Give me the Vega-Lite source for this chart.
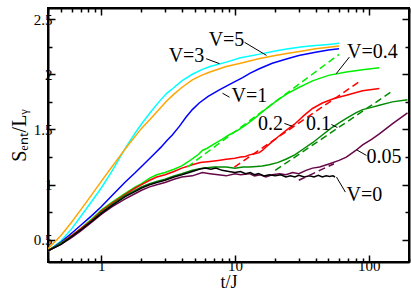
{
  "$schema": "https://vega.github.io/schema/vega-lite/v6.json",
  "width": 361,
  "height": 254,
  "autosize": {"type": "none"},
  "padding": {"left": 48, "top": 8, "right": 2, "bottom": 31},
  "config": {
    "view": {"stroke": "black", "strokeWidth": 2},
    "font": "Liberation Serif",
    "axis": {
      "grid": false,
      "domainColor": "black",
      "domainWidth": 2,
      "tickColor": "black",
      "tickWidth": 1.5,
      "labelFont": "Liberation Serif",
      "labelFontSize": 15,
      "labelColor": "black",
      "labelOverlap": false,
      "labelFlush": false,
      "labelBound": false,
      "titleFont": "Liberation Serif",
      "titleFontSize": 18,
      "titleFontWeight": "normal",
      "titleColor": "black",
      "zindex": 1
    }
  },
  "resolve": {"axis": {"x": "independent", "y": "independent"}},
  "datasets": {
    "curves": [
      {"series":"V=5","t":0.4,"S":0.40},{"series":"V=5","t":0.5,"S":0.49},{"series":"V=5","t":0.6,"S":0.60},{"series":"V=5","t":0.7,"S":0.71},{"series":"V=5","t":0.85,"S":0.85},{"series":"V=5","t":1,"S":0.97},{"series":"V=5","t":1.2,"S":1.12},{"series":"V=5","t":1.37,"S":1.24},{"series":"V=5","t":1.57,"S":1.36},{"series":"V=5","t":1.8,"S":1.47},{"series":"V=5","t":2,"S":1.55},{"series":"V=5","t":2.35,"S":1.66},{"series":"V=5","t":2.7,"S":1.75},{"series":"V=5","t":3.1,"S":1.83},{"series":"V=5","t":3.5,"S":1.88},{"series":"V=5","t":4,"S":1.94},{"series":"V=5","t":4.8,"S":2.00},{"series":"V=5","t":5.6,"S":2.04},{"series":"V=5","t":6.5,"S":2.07},{"series":"V=5","t":8.6,"S":2.11},{"series":"V=5","t":11,"S":2.15},{"series":"V=5","t":15,"S":2.18},{"series":"V=5","t":20,"S":2.21},{"series":"V=5","t":25,"S":2.23},{"series":"V=5","t":32,"S":2.25},{"series":"V=5","t":40,"S":2.26},{"series":"V=5","t":50,"S":2.27},{"series":"V=5","t":60,"S":2.28},
      {"series":"V=3","t":0.4,"S":0.42},{"series":"V=3","t":0.5,"S":0.54},{"series":"V=3","t":0.6,"S":0.66},{"series":"V=3","t":0.7,"S":0.77},{"series":"V=3","t":0.85,"S":0.91},{"series":"V=3","t":1,"S":1.03},{"series":"V=3","t":1.2,"S":1.16},{"series":"V=3","t":1.4,"S":1.27},{"series":"V=3","t":1.57,"S":1.35},{"series":"V=3","t":1.8,"S":1.44},{"series":"V=3","t":2,"S":1.51},{"series":"V=3","t":2.35,"S":1.60},{"series":"V=3","t":2.7,"S":1.68},{"series":"V=3","t":3.1,"S":1.76},{"series":"V=3","t":3.5,"S":1.82},{"series":"V=3","t":4,"S":1.88},{"series":"V=3","t":4.8,"S":1.95},{"series":"V=3","t":5.6,"S":1.99},{"series":"V=3","t":6.5,"S":2.02},{"series":"V=3","t":8.6,"S":2.07},{"series":"V=3","t":11,"S":2.10},{"series":"V=3","t":15,"S":2.14},{"series":"V=3","t":20,"S":2.17},{"series":"V=3","t":25,"S":2.19},{"series":"V=3","t":32,"S":2.21},{"series":"V=3","t":40,"S":2.23},{"series":"V=3","t":50,"S":2.245},{"series":"V=3","t":60,"S":2.255},
      {"series":"V=1","t":0.4,"S":0.40},{"series":"V=1","t":0.5,"S":0.48},{"series":"V=1","t":0.6,"S":0.56},{"series":"V=1","t":0.7,"S":0.63},{"series":"V=1","t":0.85,"S":0.72},{"series":"V=1","t":1,"S":0.80},{"series":"V=1","t":1.2,"S":0.90},{"series":"V=1","t":1.5,"S":1.02},{"series":"V=1","t":1.8,"S":1.11},{"series":"V=1","t":2.1,"S":1.19},{"series":"V=1","t":2.5,"S":1.28},{"series":"V=1","t":2.8,"S":1.34},{"series":"V=1","t":3.1,"S":1.40},{"series":"V=1","t":3.4,"S":1.45},{"series":"V=1","t":3.85,"S":1.53},{"series":"V=1","t":4.3,"S":1.61},{"series":"V=1","t":4.8,"S":1.68},{"series":"V=1","t":5.4,"S":1.74},{"series":"V=1","t":6.3,"S":1.80},{"series":"V=1","t":7.7,"S":1.86},{"series":"V=1","t":9.5,"S":1.92},{"series":"V=1","t":11.4,"S":1.97},{"series":"V=1","t":13,"S":2.01},{"series":"V=1","t":15.2,"S":2.05},{"series":"V=1","t":19,"S":2.10},{"series":"V=1","t":24.6,"S":2.14},{"series":"V=1","t":30,"S":2.17},{"series":"V=1","t":40,"S":2.20},{"series":"V=1","t":50,"S":2.22},{"series":"V=1","t":60,"S":2.23},
      {"series":"V=0.4","t":0.4,"S":0.40},{"series":"V=0.4","t":0.5,"S":0.47},{"series":"V=0.4","t":0.6,"S":0.54},{"series":"V=0.4","t":0.7,"S":0.60},{"series":"V=0.4","t":0.85,"S":0.69},{"series":"V=0.4","t":1,"S":0.77},{"series":"V=0.4","t":1.2,"S":0.84},{"series":"V=0.4","t":1.5,"S":0.92},{"series":"V=0.4","t":1.8,"S":0.98},{"series":"V=0.4","t":2,"S":1.01},{"series":"V=0.4","t":2.3,"S":1.06},{"series":"V=0.4","t":2.6,"S":1.09},{"series":"V=0.4","t":3,"S":1.11},{"series":"V=0.4","t":3.5,"S":1.14},{"series":"V=0.4","t":4,"S":1.17},{"series":"V=0.4","t":4.5,"S":1.21},{"series":"V=0.4","t":5,"S":1.25},{"series":"V=0.4","t":5.4,"S":1.28},{"series":"V=0.4","t":5.7,"S":1.31},{"series":"V=0.4","t":6.2,"S":1.33},{"series":"V=0.4","t":7,"S":1.37},{"series":"V=0.4","t":8,"S":1.41},{"series":"V=0.4","t":9,"S":1.45},{"series":"V=0.4","t":10.4,"S":1.49},{"series":"V=0.4","t":12,"S":1.54},{"series":"V=0.4","t":14,"S":1.60},{"series":"V=0.4","t":16,"S":1.66},{"series":"V=0.4","t":19,"S":1.73},{"series":"V=0.4","t":21.6,"S":1.78},{"series":"V=0.4","t":25,"S":1.83},{"series":"V=0.4","t":30,"S":1.88},{"series":"V=0.4","t":38,"S":1.94},{"series":"V=0.4","t":50,"S":1.99},{"series":"V=0.4","t":68,"S":2.02},{"series":"V=0.4","t":90,"S":2.04},{"series":"V=0.4","t":120,"S":2.06},
      {"series":"V=0.2","t":0.4,"S":0.40},{"series":"V=0.2","t":0.5,"S":0.47},{"series":"V=0.2","t":0.6,"S":0.54},{"series":"V=0.2","t":0.7,"S":0.60},{"series":"V=0.2","t":0.85,"S":0.68},{"series":"V=0.2","t":1,"S":0.76},{"series":"V=0.2","t":1.2,"S":0.83},{"series":"V=0.2","t":1.5,"S":0.91},{"series":"V=0.2","t":1.8,"S":0.97},{"series":"V=0.2","t":2,"S":1.00},{"series":"V=0.2","t":2.3,"S":1.04},{"series":"V=0.2","t":2.6,"S":1.07},{"series":"V=0.2","t":3,"S":1.09},{"series":"V=0.2","t":3.5,"S":1.12},{"series":"V=0.2","t":4,"S":1.15},{"series":"V=0.2","t":4.8,"S":1.18},{"series":"V=0.2","t":5.5,"S":1.20},{"series":"V=0.2","t":6.5,"S":1.21},{"series":"V=0.2","t":7.5,"S":1.22},{"series":"V=0.2","t":8.6,"S":1.23},{"series":"V=0.2","t":10,"S":1.24},{"series":"V=0.2","t":11,"S":1.25},{"series":"V=0.2","t":12,"S":1.255},{"series":"V=0.2","t":12.8,"S":1.27},{"series":"V=0.2","t":14,"S":1.28},{"series":"V=0.2","t":15.2,"S":1.29},{"series":"V=0.2","t":16,"S":1.31},{"series":"V=0.2","t":17,"S":1.34},{"series":"V=0.2","t":19,"S":1.39},{"series":"V=0.2","t":20.8,"S":1.43},{"series":"V=0.2","t":24,"S":1.49},{"series":"V=0.2","t":28,"S":1.55},{"series":"V=0.2","t":33,"S":1.63},{"series":"V=0.2","t":38,"S":1.69},{"series":"V=0.2","t":45,"S":1.74},{"series":"V=0.2","t":55,"S":1.78},{"series":"V=0.2","t":68,"S":1.81},{"series":"V=0.2","t":90,"S":1.85},{"series":"V=0.2","t":120,"S":1.87},
      {"series":"V=0.1","t":0.4,"S":0.40},{"series":"V=0.1","t":0.5,"S":0.47},{"series":"V=0.1","t":0.6,"S":0.53},{"series":"V=0.1","t":0.7,"S":0.59},{"series":"V=0.1","t":0.85,"S":0.67},{"series":"V=0.1","t":1,"S":0.75},{"series":"V=0.1","t":1.2,"S":0.82},{"series":"V=0.1","t":1.5,"S":0.90},{"series":"V=0.1","t":1.8,"S":0.95},{"series":"V=0.1","t":2,"S":0.98},{"series":"V=0.1","t":2.3,"S":1.01},{"series":"V=0.1","t":2.6,"S":1.03},{"series":"V=0.1","t":3,"S":1.05},{"series":"V=0.1","t":3.5,"S":1.08},{"series":"V=0.1","t":4,"S":1.10},{"series":"V=0.1","t":4.8,"S":1.13},{"series":"V=0.1","t":5.7,"S":1.15},{"series":"V=0.1","t":7,"S":1.16},{"series":"V=0.1","t":8.6,"S":1.16},{"series":"V=0.1","t":10,"S":1.15},{"series":"V=0.1","t":11.5,"S":1.16},{"series":"V=0.1","t":12.8,"S":1.16},{"series":"V=0.1","t":14.5,"S":1.165},{"series":"V=0.1","t":16,"S":1.17},{"series":"V=0.1","t":18,"S":1.18},{"series":"V=0.1","t":20.8,"S":1.20},{"series":"V=0.1","t":24,"S":1.23},{"series":"V=0.1","t":28,"S":1.27},{"series":"V=0.1","t":33,"S":1.33},{"series":"V=0.1","t":38,"S":1.38},{"series":"V=0.1","t":45,"S":1.45},{"series":"V=0.1","t":52,"S":1.51},{"series":"V=0.1","t":60,"S":1.56},{"series":"V=0.1","t":68,"S":1.60},{"series":"V=0.1","t":80,"S":1.65},{"series":"V=0.1","t":90,"S":1.68},{"series":"V=0.1","t":105,"S":1.70},{"series":"V=0.1","t":120,"S":1.72},{"series":"V=0.1","t":150,"S":1.75},{"series":"V=0.1","t":195,"S":1.77},
      {"series":"V=0.05","t":0.4,"S":0.40},{"series":"V=0.05","t":0.5,"S":0.46},{"series":"V=0.05","t":0.6,"S":0.52},{"series":"V=0.05","t":0.7,"S":0.58},{"series":"V=0.05","t":0.85,"S":0.66},{"series":"V=0.05","t":1,"S":0.73},{"series":"V=0.05","t":1.2,"S":0.80},{"series":"V=0.05","t":1.5,"S":0.87},{"series":"V=0.05","t":1.8,"S":0.92},{"series":"V=0.05","t":2,"S":0.95},{"series":"V=0.05","t":2.3,"S":0.98},{"series":"V=0.05","t":2.6,"S":1.00},{"series":"V=0.05","t":3,"S":1.02},{"series":"V=0.05","t":3.5,"S":1.05},{"series":"V=0.05","t":4,"S":1.07},{"series":"V=0.05","t":4.8,"S":1.08},{"series":"V=0.05","t":5.7,"S":1.11},{"series":"V=0.05","t":6.5,"S":1.10},{"series":"V=0.05","t":7.5,"S":1.09},{"series":"V=0.05","t":8.6,"S":1.08},{"series":"V=0.05","t":10,"S":1.10},{"series":"V=0.05","t":11,"S":1.09},{"series":"V=0.05","t":12.8,"S":1.10},{"series":"V=0.05","t":14,"S":1.08},{"series":"V=0.05","t":15.5,"S":1.09},{"series":"V=0.05","t":17,"S":1.07},{"series":"V=0.05","t":19,"S":1.09},{"series":"V=0.05","t":21.6,"S":1.10},{"series":"V=0.05","t":24,"S":1.09},{"series":"V=0.05","t":27,"S":1.11},{"series":"V=0.05","t":30,"S":1.10},{"series":"V=0.05","t":34,"S":1.13},{"series":"V=0.05","t":38,"S":1.15},{"series":"V=0.05","t":43,"S":1.16},{"series":"V=0.05","t":51,"S":1.19},{"series":"V=0.05","t":60,"S":1.22},{"series":"V=0.05","t":68,"S":1.25},{"series":"V=0.05","t":80,"S":1.31},{"series":"V=0.05","t":90,"S":1.36},{"series":"V=0.05","t":105,"S":1.41},{"series":"V=0.05","t":120,"S":1.46},{"series":"V=0.05","t":150,"S":1.55},{"series":"V=0.05","t":195,"S":1.65},
      {"series":"V=0","t":0.4,"S":0.40},{"series":"V=0","t":0.5,"S":0.46},{"series":"V=0","t":0.6,"S":0.53},{"series":"V=0","t":0.7,"S":0.59},{"series":"V=0","t":0.85,"S":0.67},{"series":"V=0","t":1,"S":0.74},{"series":"V=0","t":1.2,"S":0.81},{"series":"V=0","t":1.5,"S":0.89},{"series":"V=0","t":1.8,"S":0.94},{"series":"V=0","t":2,"S":0.97},{"series":"V=0","t":2.3,"S":1.00},{"series":"V=0","t":2.6,"S":1.02},{"series":"V=0","t":3,"S":1.04},{"series":"V=0","t":3.5,"S":1.07},{"series":"V=0","t":4,"S":1.09},{"series":"V=0","t":4.8,"S":1.12},{"series":"V=0","t":5.4,"S":1.14},{"series":"V=0","t":6,"S":1.15},{"series":"V=0","t":6.6,"S":1.14},{"series":"V=0","t":7.2,"S":1.15},{"series":"V=0","t":8,"S":1.13},{"series":"V=0","t":9,"S":1.12},{"series":"V=0","t":10,"S":1.11},{"series":"V=0","t":11,"S":1.12},{"series":"V=0","t":12,"S":1.10},{"series":"V=0","t":13,"S":1.11},{"series":"V=0","t":14,"S":1.09},{"series":"V=0","t":15,"S":1.10},{"series":"V=0","t":16.5,"S":1.08},{"series":"V=0","t":18,"S":1.09},{"series":"V=0","t":20,"S":1.08},{"series":"V=0","t":22,"S":1.09},{"series":"V=0","t":24,"S":1.07},{"series":"V=0","t":26,"S":1.08},{"series":"V=0","t":28,"S":1.07},{"series":"V=0","t":30,"S":1.085},{"series":"V=0","t":33,"S":1.07},{"series":"V=0","t":36,"S":1.08},{"series":"V=0","t":39,"S":1.07},{"series":"V=0","t":42,"S":1.085},{"series":"V=0","t":45,"S":1.07},{"series":"V=0","t":48,"S":1.08},{"series":"V=0","t":51,"S":1.075},{"series":"V=0","t":54,"S":1.08},{"series":"V=0","t":56,"S":1.07}
    ],
    "fits": [
      {"series":"V=0.4","t":4.4,"S":1.16},{"series":"V=0.4","t":60,"S":2.18},
      {"series":"V=0.2","t":9.9,"S":1.16},{"series":"V=0.2","t":88,"S":1.945},
      {"series":"V=0.1","t":20,"S":1.13},{"series":"V=0.1","t":147,"S":1.84},
      {"series":"V=0.05","t":30,"S":1.04},{"series":"V=0.05","t":55,"S":1.19}
    ],
    "leaders": [
      {"t":11.8,"S":2.289,"t2":17.2,"S2":2.171},
      {"t":6.09,"S":2.141,"t2":7.66,"S2":2.096},
      {"t":8.07,"S":1.828,"t2":9.1,"S2":1.792},
      {"t":71.7,"S":2.156,"t2":57.1,"S2":2.005},
      {"t":23.4,"S":1.555,"t2":26.9,"S2":1.528},
      {"t":52.6,"S":1.545,"t2":58.3,"S2":1.518},
      {"t":80.9,"S":1.317,"t2":96.1,"S2":1.265},
      {"t":57.4,"S":1.069,"t2":66.9,"S2":0.933}
    ],
    "labels": [
      {"label":"V=5","t":8.64,"S":2.307},
      {"label":"V=3","t":4.34,"S":2.162},
      {"label":"V=1","t":12.8,"S":1.80},
      {"label":"V=0.4","t":106.6,"S":2.198},
      {"label":"0.2","t":18.4,"S":1.546},
      {"label":"0.1","t":42.1,"S":1.546},
      {"label":"0.05","t":129.9,"S":1.247},
      {"label":"V=0","t":92.9,"S":0.908}
    ]
  },
  "layer": [
    {
      "data": {"name": "curves"},
      "mark": {"type": "line", "strokeWidth": 1.5, "clip": true},
      "encoding": {
        "x": {
          "field": "t", "type": "quantitative",
          "scale": {"type": "log", "domain": [0.4, 200], "nice": false},
          "axis": {
            "orient": "bottom", "title": "t/J",
            "values": [0.4,0.5,0.6,0.7,0.8,0.9,1,2,3,4,5,6,7,8,9,10,20,30,40,50,60,70,80,90,100,200],
            "labelExpr": "datum.value == 1 ? '1' : datum.value == 10 ? '10' : datum.value == 100 ? '100' : ''",
            "labelOverlap": false,
            "tickSize": {"condition": {"test": "datum.value == 1 || datum.value == 10 || datum.value == 100", "value": -7}, "value": -4},
            "labelPadding": 3,
            "titlePadding": -3
          }
        },
        "y": {
          "field": "S", "type": "quantitative",
          "scale": {"domain": [0.3, 2.6], "nice": false, "zero": false},
          "axis": {
            "orient": "left", "title": "Sₑₙₜ/Lᵧ",
            "values": [0.5,0.75,1,1.25,1.5,1.75,2,2.25,2.5],
            "labelExpr": "datum.value == 0.5 ? '0.5' : datum.value == 1 ? '1' : datum.value == 1.5 ? '1.5' : datum.value == 2 ? '2' : datum.value == 2.5 ? '2.5' : ''",
            "labelOverlap": false,
            "tickSize": {"condition": {"test": "datum.value == 0.5 || datum.value == 1 || datum.value == 1.5 || datum.value == 2 || datum.value == 2.5", "value": -7}, "value": -4},
            "labelPadding": 3,
            "titleFontSize": 20,
            "titlePadding": 4
          }
        },
        "color": {
          "field": "series", "type": "nominal",
          "scale": {
            "domain": ["V=5","V=3","V=1","V=0.4","V=0.2","V=0.1","V=0.05","V=0"],
            "range": ["#00ffff","#ffa500","#0000ff","#00ee00","#ff0000","#008b00","#670748","#000000"]
          },
          "legend": null
        }
      }
    },
    {
      "data": {"name": "fits"},
      "mark": {"type": "line", "strokeWidth": 1.5, "strokeDash": [7, 4], "clip": true},
      "encoding": {
        "x": {
          "field": "t", "type": "quantitative",
          "scale": {"type": "log", "domain": [0.4, 200], "nice": false},
          "axis": {
            "orient": "top", "title": null, "labels": false, "domain": true,
            "values": [0.4,0.5,0.6,0.7,0.8,0.9,1,2,3,4,5,6,7,8,9,10,20,30,40,50,60,70,80,90,100,200],
            "tickSize": {"condition": {"test": "datum.value == 1 || datum.value == 10 || datum.value == 100", "value": -7}, "value": -4}
          }
        },
        "y": {
          "field": "S", "type": "quantitative",
          "scale": {"domain": [0.3, 2.6], "nice": false, "zero": false},
          "axis": {
            "orient": "right", "title": null, "labels": false,
            "values": [0.5,0.75,1,1.25,1.5,1.75,2,2.25,2.5],
            "tickSize": {"condition": {"test": "datum.value == 0.5 || datum.value == 1 || datum.value == 1.5 || datum.value == 2 || datum.value == 2.5", "value": -7}, "value": -4}
          }
        },
        "color": {"field": "series", "type": "nominal", "legend": null}
      }
    },
    {
      "data": {"name": "leaders"},
      "mark": {"type": "rule", "color": "black", "strokeWidth": 1},
      "encoding": {
        "x": {"field": "t", "type": "quantitative", "axis": null},
        "y": {"field": "S", "type": "quantitative", "axis": null},
        "x2": {"field": "t2"},
        "y2": {"field": "S2"}
      }
    },
    {
      "data": {"name": "labels"},
      "mark": {"type": "text", "font": "Liberation Serif", "fontSize": 20, "color": "black", "align": "center", "baseline": "middle"},
      "encoding": {
        "x": {"field": "t", "type": "quantitative", "axis": null},
        "y": {"field": "S", "type": "quantitative", "axis": null},
        "text": {"field": "label"}
      }
    }
  ]
}
